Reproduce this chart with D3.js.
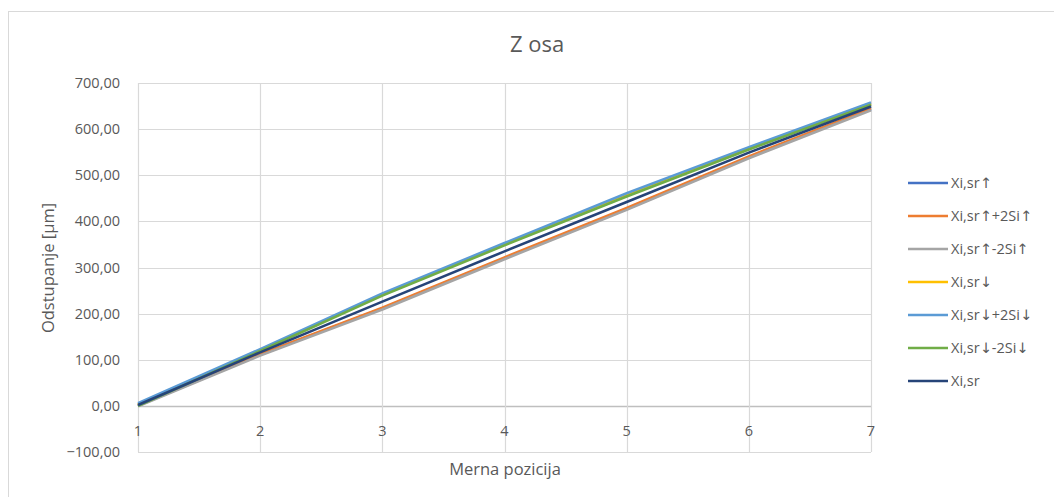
<!DOCTYPE html>
<html>
<head>
<meta charset="utf-8">
<script src="https://cdn.jsdelivr.net/npm/d3@7"></script>
<style>
  body { margin: 0; background: #fff; }
  text { font-family: "Open Sans", "Liberation Sans", sans-serif; fill: #595959; }
  .arrow { font-family: "DejaVu Sans", sans-serif; }
</style>
</head>
<body>
<div id="chart"></div>
<script>
// data
const positions = [1, 2, 3, 4, 5, 6, 7]
const seriesNames = ["Xi,sr↑", "Xi,sr↑+2Si↑", "Xi,sr↑-2Si↑", "Xi,sr↓", "Xi,sr↓+2Si↓", "Xi,sr↓-2Si↓", "Xi,sr"]
const upMean = [0, 111, 211, 320, 427, 539, 643]
const upPlus = [1, 112, 213, 322, 429, 541, 645]
const upMinus = [-1, 109, 209, 318, 425, 537, 641]
const downMean = [3, 121, 241, 350, 457, 558, 655]
const downPlus = [6, 123, 244, 353, 461, 561, 658]
const downMinus = [0, 119, 239, 348, 454, 556, 653]
const overallMean = [2, 116, 226, 335, 442, 549, 649]
const yTicks = [-100, 0, 100, 200, 300, 400, 500, 600, 700]

const seriesValues = [upMean, upPlus, upMinus, downMean, downPlus, downMinus, overallMean]
const colors = ["#4472C4", "#ED7D31", "#A5A5A5", "#FFC000", "#5B9BD5", "#70AD47", "#264478"]

const svgWidth = 1054
const svgHeight = 497

let margin = { top: 83, left: 138 }
let width = 871 - 138
let height = 452 - 83

let svg = d3.select("#chart")
  .append("svg")
  .attr("width", svgWidth)
  .attr("height", svgHeight)

// chart frame
svg.append("rect")
  .attr("x", 8.5).attr("y", 11.5)
  .attr("width", 1100).attr("height", 600)
  .attr("fill", "none")
  .attr("stroke", "#d9d9d9")

let chartGroup = svg.append("g")
  .attr("transform", `translate(${margin.left}, ${margin.top})`)

let x = d3.scaleLinear().domain([1, 7]).range([0, width])
let y = d3.scaleLinear().domain([-100, 700]).range([height, 0])

// horizontal grid
chartGroup.selectAll(".hgrid")
  .data(yTicks)
  .enter()
  .append("line")
  .attr("x1", 0).attr("x2", width)
  .attr("y1", d => Math.round(y(d)) + 0.5)
  .attr("y2", d => Math.round(y(d)) + 0.5)
  .attr("stroke", d => d === 0 ? "#bfbfbf" : "#d9d9d9")
  .attr("stroke-width", d => d === 0 ? 1.5 : 1.2)

// vertical grid
chartGroup.selectAll(".vgrid")
  .data(positions)
  .enter()
  .append("line")
  .attr("x1", d => Math.round(x(d)) + 0.5)
  .attr("x2", d => Math.round(x(d)) + 0.5)
  .attr("y1", 0).attr("y2", height)
  .attr("stroke", "#d9d9d9")
  .attr("stroke-width", 1.2)

// y tick labels
chartGroup.selectAll(".ylab")
  .data(yTicks)
  .enter()
  .append("text")
  .attr("x", -18)
  .attr("y", d => y(d))
  .attr("dy", "0.35em")
  .attr("text-anchor", "end")
  .attr("font-size", "14.5px")
  .text(d => d3.format(".2f")(d).replace(".", ","))

// x tick labels, under the zero line
chartGroup.selectAll(".xlab")
  .data(positions)
  .enter()
  .append("text")
  .attr("x", d => x(d))
  .attr("y", y(0) + 30)
  .attr("text-anchor", "middle")
  .attr("font-size", "14.5px")
  .text(d => d)

// lines
let line = d3.line()
  .x((d, i) => x(positions[i]))
  .y(d => y(d))

chartGroup.selectAll(".series")
  .data(seriesValues)
  .enter()
  .append("path")
  .attr("d", d => line(d))
  .attr("fill", "none")
  .attr("stroke", (d, i) => colors[i])
  .attr("stroke-width", 2.6)
  .attr("stroke-linejoin", "round")

// titles
svg.append("text")
  .attr("x", 537).attr("y", 52)
  .attr("text-anchor", "middle")
  .attr("font-size", "22px")
  .text("Z osa")

svg.append("text")
  .attr("x", 505).attr("y", 475)
  .attr("text-anchor", "middle")
  .attr("font-size", "16.5px")
  .text("Merna pozicija")

svg.append("text")
  .attr("transform", "translate(54, 268) rotate(-90)")
  .attr("text-anchor", "middle")
  .attr("font-size", "16.5px")
  .text("Odstupanje [µm]")

// legend
let legend = svg.append("g")
  .attr("transform", "translate(908, 183)")

let items = legend.selectAll(".item")
  .data(seriesNames)
  .enter()
  .append("g")
  .attr("transform", (d, i) => `translate(0, ${i * 33})`)

items.append("line")
  .attr("x1", 0).attr("x2", 40)
  .attr("stroke", (d, i) => colors[i])
  .attr("stroke-width", 2.6)

// split names so arrows get a font with full-size arrow glyphs
let labels = items.append("text")
  .attr("x", 43)
  .attr("dy", "0.35em")
  .attr("font-size", "14.5px")

labels.selectAll("tspan")
  .data(d => d.split(/([↑↓])/).filter(s => s.length))
  .enter()
  .append("tspan")
  .attr("class", s => /[↑↓]/.test(s) ? "arrow" : null)
  .text(s => s)
</script>
</body>
</html>
